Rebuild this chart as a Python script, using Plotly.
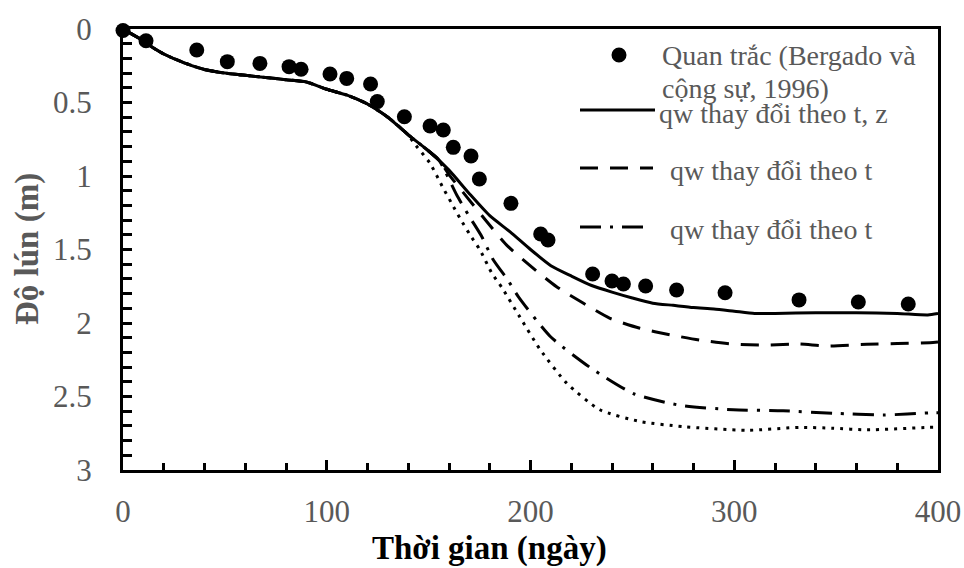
import plotly.graph_objects as go

# Observed data (Bergado et al., 1996)
obs_t = [0, 11.3, 36.2, 51.2, 67.2, 81.5, 87.4, 101.6, 109.8, 121.5, 124.8, 138.1,
         150.7, 157.2, 162.1, 170.8, 174.9, 190.4, 205, 208.6, 230.5, 240, 245.6,
         256.5, 271.7, 295.5, 331.8, 360.9, 385.4]
obs_s = [0.01, 0.08, 0.143, 0.222, 0.234, 0.256, 0.274, 0.306, 0.336, 0.374, 0.494, 0.597,
         0.66, 0.687, 0.805, 0.864, 1.02, 1.186, 1.395, 1.435, 1.667, 1.714, 1.735,
         1.748, 1.776, 1.794, 1.843, 1.857, 1.871]

# Common early part
common_t = [0, 5, 10, 15, 20, 30, 40, 50, 60, 70, 80, 90, 100, 110, 120, 130, 140]
common_s = [0, 0.04, 0.08, 0.13, 0.17, 0.23, 0.275, 0.30, 0.315, 0.33, 0.345, 0.36,
            0.41, 0.45, 0.51, 0.60, 0.72]

# qw varies with t, z (solid)
solid_t = common_t + [150, 160, 170, 180, 190, 200, 210, 220, 230, 240, 250, 260, 270,
                      280, 290, 300, 310, 320, 340, 360, 380, 395, 400]
solid_s = common_s + [0.83, 0.96, 1.12, 1.27, 1.38, 1.50, 1.61, 1.68, 1.745, 1.79, 1.83,
                      1.865, 1.88, 1.895, 1.905, 1.92, 1.935, 1.935, 1.93, 1.93, 1.935,
                      1.945, 1.935]

# qw varies with t (dashed)
dash_t = common_t + [150, 155, 160, 168.6, 178.5, 188.3, 199.8, 212.8, 226, 239, 253.7,
                     268.5, 283, 299.4, 316, 332, 345, 365, 396, 400]
dash_s = common_s + [0.83, 0.89, 0.99, 1.14, 1.31, 1.47, 1.61, 1.753, 1.866, 1.968, 2.036,
                     2.08, 2.116, 2.143, 2.15, 2.143, 2.156, 2.145, 2.134, 2.13]

# qw varies with t (dash-dot)
dashdot_t = common_t + [150, 155, 163.8, 169.5, 176, 181.7, 189, 194, 209.6, 229, 250.5,
                        273.4, 299.5, 324, 348.6, 373, 397.7, 400]
dashdot_s = common_s + [0.83, 0.89, 1.129, 1.265, 1.41, 1.57, 1.71, 1.82, 2.09, 2.30, 2.48,
                        2.56, 2.59, 2.597, 2.614, 2.626, 2.61, 2.61]

# dotted (no legend entry)
dot_t = common_t + [142.5, 150.7, 157.2, 161.3, 165.4, 170.3, 175.2, 181, 186, 194.8,
                    204.7, 217.8, 234, 253.7, 275, 306, 332, 348.6, 365, 396, 400]
dot_s = common_s + [0.77, 0.914, 1.084, 1.186, 1.288, 1.40, 1.503, 1.66, 1.76, 1.96,
                    2.18, 2.41, 2.59, 2.67, 2.705, 2.73, 2.71, 2.716, 2.727, 2.71, 2.71]

legend_labels = ["Quan trắc (Bergado và", "cộng sự, 1996)", "qw thay đổi theo t, z",
                 "qw thay đổi theo t", "qw thay đổi theo t"]

SERIF = "Liberation Serif"
GRAY = "#595959"
DASH = "18px,12px"
DASHDOT = "21px,9px,3px,9px"

fig = go.Figure()
fig.add_trace(go.Scatter(x=solid_t, y=solid_s, mode="lines",
                         line=dict(color="black", width=3, shape="spline", smoothing=0.6)))
fig.add_trace(go.Scatter(x=dash_t, y=dash_s, mode="lines",
                         line=dict(color="black", width=3, dash=DASH,
                                   shape="spline", smoothing=0.6)))
fig.add_trace(go.Scatter(x=dashdot_t, y=dashdot_s, mode="lines",
                         line=dict(color="black", width=3, dash=DASHDOT,
                                   shape="spline", smoothing=0.6)))
fig.add_trace(go.Scatter(x=dot_t, y=dot_s, mode="lines",
                         line=dict(color="black", width=3, dash="3px,6px",
                                   shape="spline", smoothing=0.6)))
fig.add_trace(go.Scatter(x=obs_t, y=obs_s, mode="markers", cliponaxis=False,
                         marker=dict(color="black", size=15)))

# full-window figure; the page's default body margin is removed after plotting
W, H = 964, 568
L, R, T, B = 123, 26, 29, 98
pw, ph = W - L - R, H - T - B


def px(xs):
    """screen x (reference pixels) -> paper"""
    return (xs - L) / pw


def py(ys):
    """screen y (reference pixels) -> paper"""
    return 1 - (ys - T) / ph


# Legend (manual)
fig.add_shape(type="circle", xref="paper", yref="paper",
              x0=px(611.5), x1=px(626.5), y0=py(47.5), y1=py(62.5),
              fillcolor="black", line=dict(width=0))
fig.add_shape(type="line", xref="paper", yref="paper", x0=px(580), x1=px(655),
              y0=py(110), y1=py(110), line=dict(color="black", width=3))
fig.add_shape(type="line", xref="paper", yref="paper", x0=px(580), x1=px(653),
              y0=py(168), y1=py(168), line=dict(color="black", width=3, dash=DASH))
fig.add_shape(type="line", xref="paper", yref="paper", x0=px(580), x1=px(645),
              y0=py(227), y1=py(227), line=dict(color="black", width=3, dash=DASHDOT))

leg_pos = [(660, 55), (660, 88), (657, 113), (668, 170), (668, 229)]
for txt, (lx, ly) in zip(legend_labels, leg_pos):
    fig.add_annotation(text=txt, xref="paper", yref="paper", x=px(lx), y=py(ly),
                       xanchor="left", yanchor="middle", showarrow=False,
                       font=dict(family=SERIF, size=28, color=GRAY))

# Axis titles
fig.add_annotation(text="<b>Thời gian (ngày)</b>", xref="paper", yref="paper",
                   x=px(489), y=py(548), xanchor="center", yanchor="middle",
                   showarrow=False, font=dict(family=SERIF, size=33, color="black"))
fig.add_annotation(text="<b>Độ lún (m)</b>", xref="paper", yref="paper",
                   x=px(27), y=py(249), xanchor="center", yanchor="middle", textangle=-90,
                   showarrow=False, font=dict(family=SERIF, size=33, color=GRAY))

fig.update_layout(
    width=W, height=H, showlegend=False,
    plot_bgcolor="white", paper_bgcolor="white",
    margin=dict(l=L, r=R, t=T, b=B, autoexpand=False),
)
fig.update_xaxes(range=[0, 400], tickvals=[0, 100, 200, 300, 400], automargin=False,
                 ticks="inside", ticklen=10, tickwidth=2.5, tickcolor="black",
                 minor=dict(dtick=20, ticks="inside", ticklen=7, tickwidth=2.5, tickcolor="black"),
                 showline=True, linecolor="black", linewidth=3, mirror=True,
                 showgrid=False, zeroline=False, ticklabelstandoff=12,
                 tickfont=dict(family=SERIF, size=31, color=GRAY))
fig.update_yaxes(range=[3, 0], tickvals=[0, 0.5, 1, 1.5, 2, 2.5, 3], automargin=False,
                 ticktext=["0", "0.5", "1", "1.5", "2", "2.5", "3"],
                 ticks="inside", ticklen=9, tickwidth=2.5, tickcolor="black",
                 minor=dict(dtick=0.1, ticks="inside", ticklen=9, tickwidth=2.5, tickcolor="black"),
                 showline=True, linecolor="black", linewidth=3, mirror=True,
                 showgrid=False, zeroline=False, ticklabelstandoff=22,
                 tickfont=dict(family=SERIF, size=31, color=GRAY))

fig.write_html("out.html", config={"displayModeBar": False},
               post_script="document.body.style.margin='0';document.body.style.overflow='hidden';")
